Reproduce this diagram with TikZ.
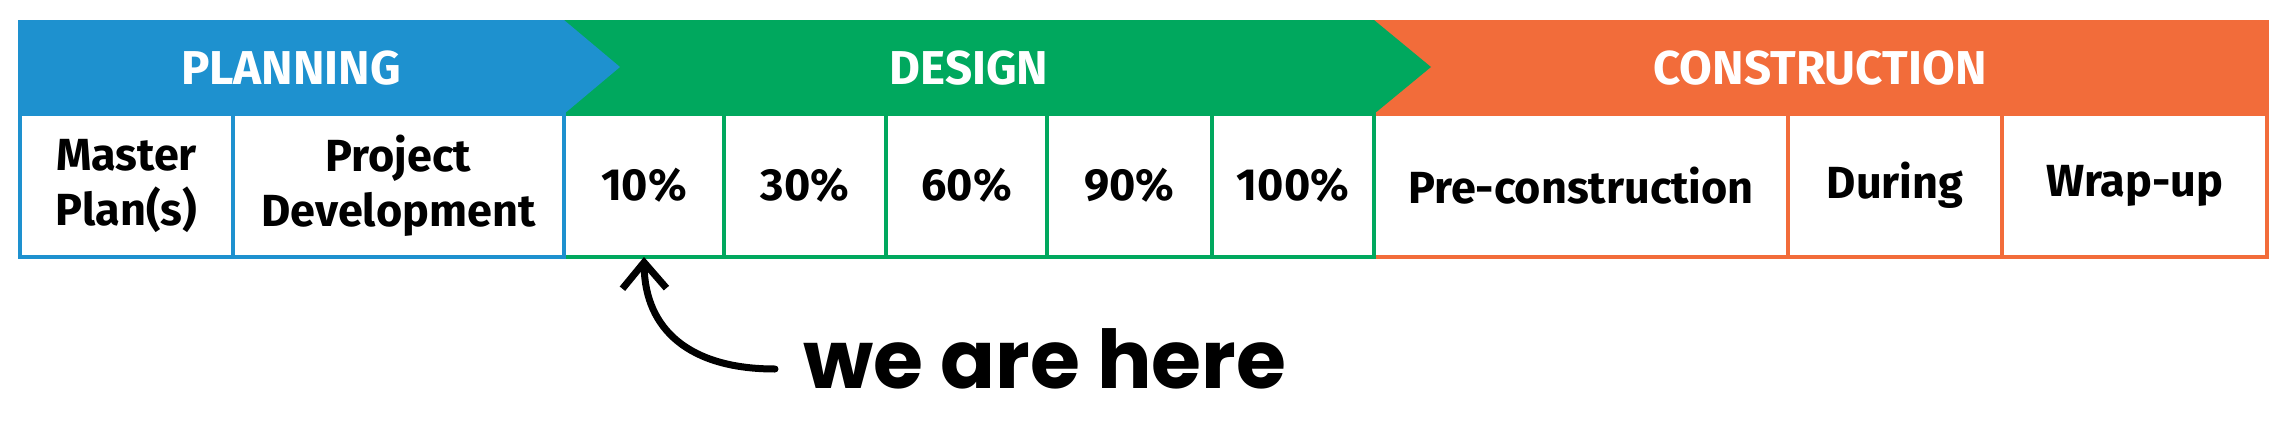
\documentclass[tikz,border=0pt]{standalone}
\usepackage{fontspec}
\setmainfont{Fira Sans}
\newfontfamily\handfont{Poppins}
\usetikzlibrary{arrows.meta}
\definecolor{cblue}{RGB}{30,145,207}
\definecolor{cgreen}{RGB}{0,168,94}
\definecolor{corange}{RGB}{242,108,58}
\tikzset{
  cell/.style={draw=#1, line width=4pt, fill=white, minimum height=143pt, inner sep=0pt,
    align=center, text=black, font=\bfseries\fontsize{45}{55}\selectfont},
  bandlabel/.style={text=white, inner sep=0pt, font=\bfseries\fontsize{47.5}{50}\selectfont},
  handtext/.style={inner sep=0pt, text=black, font=\handfont\bfseries\fontsize{81}{85}\selectfont},
  pointer/.style={line width=7pt, line cap=round, -{Straight Barb[length=26pt,width=44pt]}}
}
\begin{document}
\begin{tikzpicture}[x=1pt,y=-1pt]
\useasboundingbox (0,0) rectangle (2284,423);
% header bands
\fill[corange] (1374,20) rectangle (2269,114);
\fill[cgreen] (564,20) -- (1374,20) -- (1431,67) -- (1374,114) -- (564,114) -- cycle;
\fill[cblue] (18,20) -- (564,20) -- (620,67) -- (564,114) -- (18,114) -- cycle;
\node[bandlabel] (planning) at (291,68) {PLANNING};
\node[bandlabel] (design) at (969,68) {DESIGN};
\node[bandlabel] (construction) at (1820,68) {CONSTRUCTION};
% construction cells
\node[cell=corange, minimum width=414pt] (pre) at (1581,185.5) {Pre-construction};
\node[cell=corange, minimum width=214pt] (dur) at (1895,185.5) {During};
\node[cell=corange, minimum width=265pt] (wrap) at (2134.5,185.5) {Wrap-up};
% design cells
\node[cell=cgreen, minimum width=160pt] (p10) at (644,185.5) {10\%};
\node[cell=cgreen, minimum width=162pt] (p30) at (805,185.5) {30\%};
\node[cell=cgreen, minimum width=161pt] (p60) at (966.5,185.5) {60\%};
\node[cell=cgreen, minimum width=165pt] (p90) at (1129.5,185.5) {90\%};
\node[cell=cgreen, minimum width=162pt] (p100) at (1293,185.5) {100\%};
% planning cells
\node[cell=cblue, minimum width=213pt] (mp) at (126.5,185.5) {Master\\Plan(s)};
\node[cell=cblue, minimum width=331pt] (pd) at (398.5,185.5) {Project\\Development};
% pointer
\node[handtext, anchor=base west] (here) at (803,388) {we are here};
\coordinate (tail) at (775,369);
\draw[pointer] (tail) .. controls (690,369) and (645,330) .. ([yshift=2pt]p10.south);
\end{tikzpicture}
\end{document}
